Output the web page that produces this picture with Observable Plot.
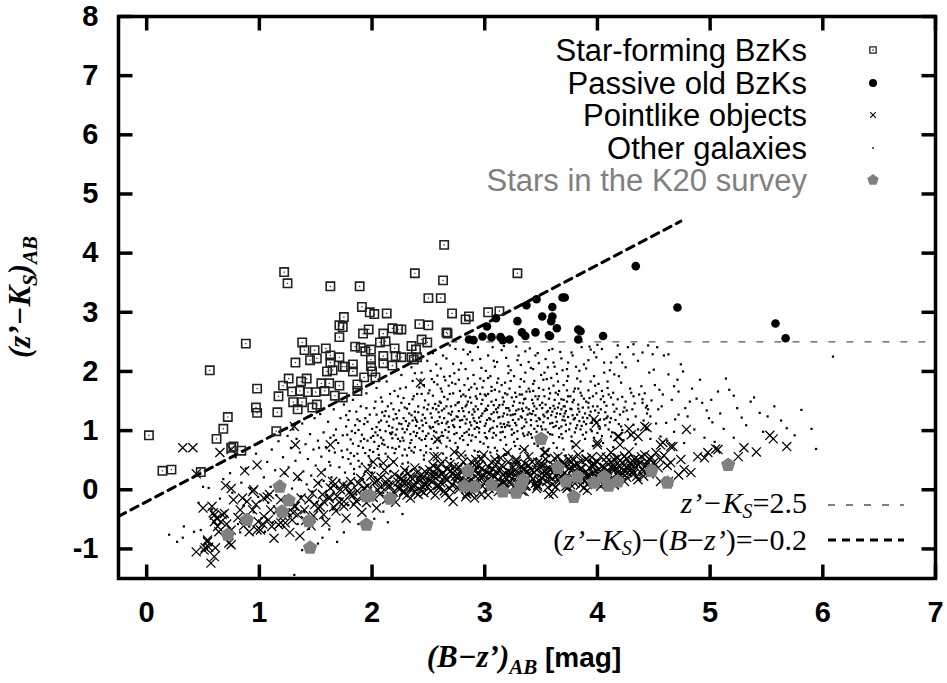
<!DOCTYPE html>
<html>
<head>
<meta charset="utf-8">
<script src="https://cdn.jsdelivr.net/npm/d3@7"></script>
<script src="https://cdn.jsdelivr.net/npm/@observablehq/plot@0.6"></script>
<style>
  html, body { margin: 0; padding: 0; background: #fff; }
  #chart svg { display: block; }
</style>
</head>
<body>
<div id="chart"></div>
<script>
// BzK colour–colour diagram: (z'−Ks) against (B−z'), AB magnitudes.

const xTicks = [0, 1, 2, 3, 4, 5, 6, 7];
const yTicks = [-1, 0, 1, 2, 3, 4, 5, 6, 7, 8];
const xDomain = [-0.25, 7];
const yDomain = [-1.5, 8];

// selection boundaries
const cutOffset = -0.2;          // (z'−Ks) − (B−z') = −0.2
const cutX = [-0.25, 4.74];      // extent of the drawn diagonal
const passiveLimit = 2.5;        // z'−Ks = 2.5
const passiveStartX = 2.7;

// star-forming BzKs  [B−z', z'−Ks]
const starForming = [
  [0.02,0.92],[0.14,0.32],[0.22,0.34],[0.48,0.30],[0.62,0.86],[0.68,1.03],[0.72,1.23],[0.75,0.71],
  [0.77,0.73],[0.84,0.66],[0.97,1.39],[0.98,1.30],[1.15,0.99],[1.16,1.31],[0.56,2.02],[0.88,2.47],
  [1.22,3.68],[1.25,3.49],[1.63,3.44],[1.89,3.44],[2.38,3.66],[2.64,4.14],[2.63,3.54],[2.50,3.24],
  [2.61,3.24],[2.66,2.66],[1.91,3.09],[1.98,3.00],[2.02,2.97],[2.13,2.98],[1.75,2.92],[1.71,2.78],
  [1.74,2.75],[1.71,2.58],[1.92,2.64],[1.97,2.71],[2.10,2.64],[2.18,2.73],[2.23,2.71],[2.42,2.80],
  [2.50,2.78],[1.38,2.49],[1.40,2.36],[1.49,2.36],[1.59,2.39],[1.32,2.15],[1.45,2.19],[1.51,2.22],
  [1.63,2.27],[1.71,2.24],[1.63,2.15],[1.76,2.08],[1.83,2.12],[1.83,2.00],[1.85,2.42],[1.90,2.40],
  [1.94,2.34],[1.99,2.37],[2.07,2.49],[2.12,2.51],[2.20,2.39],[2.21,2.26],[2.26,2.24],[2.10,2.26],
  [2.10,2.14],[2.18,2.10],[1.99,2.20],[1.99,2.09],[2.00,2.00],[2.03,1.90],[1.93,1.90],[2.35,2.43],
  [2.39,2.37],[2.44,2.54],[2.49,2.49],[2.35,2.24],[2.40,2.24],[2.37,2.20],[1.26,1.88],[1.21,1.76],
  [1.42,1.88],[1.37,1.83],[1.29,1.66],[1.36,1.67],[1.43,1.65],[1.17,1.58],[0.98,1.71],[1.30,1.48],
  [1.38,1.48],[1.34,1.36],[1.47,1.39],[1.55,1.80],[1.62,1.80],[1.71,1.76],[1.87,1.78],[1.50,1.65],
  [1.58,1.67],[1.67,1.59],[1.74,1.56],[1.87,1.67],[1.60,2.00],[1.65,2.02],[1.51,1.44],[1.74,2.08],
  [2.71,2.98],[2.83,2.88],[2.86,2.93],[3.03,3.00],[3.13,3.02],[3.29,3.66],[2.26,2.71],[2.67,2.64]
];

// passive old BzKs
const passiveOld = [
  [4.34,3.78],[4.71,3.08],[5.58,2.81],[5.67,2.56],[4.05,2.60],[3.83,2.71],[3.85,2.68],[3.83,2.54],
  [3.69,3.25],[3.71,3.25],[3.60,3.09],[3.60,2.93],[3.59,2.85],[3.51,2.93],[3.64,2.73],[3.58,2.60],
  [3.46,3.22],[3.37,3.12],[3.29,2.85],[3.45,2.66],[3.33,2.66],[3.36,2.60],[3.10,2.90],[3.02,2.76],
  [2.98,2.59],[2.86,2.54],[2.90,2.53],[3.06,2.58],[3.14,2.58],[3.16,2.53],[3.22,2.54],[3.57,2.61]
];

// pointlike objects
const pointlike = [
  [0.32,0.71],[0.41,0.71],[0.65,0.63],[0.44,0.27],[0.75,0.68],[0.98,0.42],[0.87,0.32],[1.31,1.07],
  [1.32,0.76],[0.70,0.07],[0.75,0.02],[0.58,-0.28],[0.60,-0.43],[0.62,-0.48],[0.66,-0.54],[0.63,-0.62],
  [0.69,-0.40],[0.77,-0.17],[0.83,-0.34],[0.89,-0.20],[0.95,0.00],[0.94,-0.34],[0.91,-0.71],[0.98,-0.68],
  [1.04,-0.45],[1.07,-0.12],[1.10,-0.34],[1.19,-0.17],[1.19,-0.56],[1.25,-0.39],[1.31,-0.28],[1.34,-0.42],
  [0.44,-1.05],[0.51,-1.02],[0.55,-0.97],[0.61,-0.98],[0.57,-1.24],[0.60,-1.13],[0.54,-0.88],[0.75,-0.93],
  [0.50,-0.31],[0.94,-0.03],[0.59,-0.39],[0.67,-0.42],[0.60,-0.54],[0.75,-0.68],[0.73,-0.90],[0.54,-0.85],
  [0.52,-0.98],[0.85,-0.14],[0.97,-0.25],[1.04,-0.14],[1.09,-0.08],[0.99,-0.54],[1.01,-0.68],[1.08,-0.51],
  [1.16,-0.34],[1.17,-0.59],[1.23,-0.56],[1.30,-0.39],[1.32,-0.28],[1.34,0.22],[1.22,0.29],[1.37,-0.14],
  [1.40,-0.34],[1.44,-0.17],[1.47,-0.06],[1.49,-0.25],[1.52,0.11],[1.55,0.29],[1.57,-0.20],[1.62,-0.12],
  [1.65,0.14],[1.66,-0.29],[1.72,0.00],[1.75,-0.20],[1.78,0.05],[1.81,-0.08],[1.84,-0.25],[1.88,0.11],
  [1.92,-0.12],[1.96,-0.03],[2.01,0.47],[2.05,0.00],[2.08,0.05],[2.10,0.45],[2.15,0.08],[2.19,0.47],
  [2.23,0.03],[2.27,0.14],[2.32,0.11],[2.34,0.22],[2.37,0.05],[2.41,-0.08],[2.43,0.17],[2.49,0.11],
  [2.51,0.34],[2.55,0.56],[2.55,0.22],[2.59,0.08],[2.63,0.29],[2.67,0.17],[2.72,-0.20],[2.73,0.39],
  [2.76,0.22],[2.81,0.47],[2.83,-0.12],[2.86,-0.05],[2.91,0.42],[2.92,0.11],[2.88,0.29],[2.73,0.64],
  [2.58,0.85],[2.92,0.51],[2.99,0.59],[3.06,0.46],[3.14,0.54],[3.20,0.63],[3.28,0.51],[3.32,0.39],
  [3.39,0.56],[3.47,0.46],[3.54,0.63],[3.57,0.37],[3.65,0.56],[3.70,0.42],[3.77,0.47],[3.83,0.59],
  [3.90,0.51],[3.96,0.39],[4.00,0.80],[4.03,0.56],[4.08,0.46],[4.12,0.63],[4.18,0.54],[4.24,0.42],
  [4.28,0.64],[4.36,0.51],[4.42,0.59],[4.48,0.54],[4.52,0.63],[4.56,0.51],[4.58,0.80],[4.65,0.73],
  [4.65,0.46],[4.74,0.51],[4.79,1.02],[4.77,0.34],[4.83,0.29],[4.89,0.56],[4.95,0.54],[4.98,0.63],
  [5.07,0.68],[5.25,0.56],[5.30,0.71],[5.41,0.64],[3.97,1.19],[4.18,0.90],[4.30,0.93],[4.42,1.07],
  [4.56,0.14],[4.63,0.14],[4.72,0.25],[4.36,0.17],[4.24,0.14],[4.15,0.08],[4.06,0.11],[3.94,0.14],
  [3.85,0.08],[3.74,0.05],[3.68,0.22],[3.57,-0.08],[3.47,0.08],[3.41,0.14],[3.35,-0.03],[3.26,0.05],
  [3.17,0.11],[3.12,-0.03],[3.04,0.08],[2.97,-0.08],[2.91,-0.14],[3.07,0.25],[3.23,0.29],[3.38,0.31],
  [3.53,0.25],[3.61,0.31],[3.79,0.29],[3.92,0.25],[4.09,0.29],[4.21,0.29],[4.32,0.31],[4.45,0.34],
  [3.99,1.13],[4.19,0.90],[4.28,1.03],[4.36,0.90],[4.44,1.05],[4.67,0.73],[4.56,0.76],[5.05,0.69],
  [5.56,0.86],[5.68,0.73],[3.81,0.76],[4.00,0.76],[4.20,0.76],[5.53,0.92],[2.43,1.81],[2.58,0.56],
  [2.79,0.59],[3.35,0.68],[3.53,0.63],[1.96,0.34],[1.63,0.76],
  [1.52,-0.31],[1.56,-0.08],[1.57,-0.42],[1.62,-0.15],[1.63,0.03],[1.68,-0.36],[1.69,-0.11],[1.74,0.08],
  [1.75,-0.28],[1.80,-0.04],[1.81,0.14],[1.86,-0.19],[1.87,-0.02],[1.90,0.19],[1.95,-0.22],[1.96,0.06],
  [2.01,-0.13],[2.02,0.12],[2.07,-0.07],[2.08,0.21],[2.13,-0.16],[2.14,0.17],[2.19,-0.04],[2.20,0.26],
  [2.25,0.02],[2.26,0.19],[2.31,-0.09],[2.32,0.28],[2.37,0.09],[2.38,-0.03],[2.43,0.24],[2.44,0.06],
  [2.47,0.31],[2.52,-0.02],[2.53,0.14],[2.58,0.36],[2.59,0.03],[2.64,0.21],[2.65,-0.06],[2.70,0.32],
  [2.71,0.08],[2.76,0.27],[2.77,0.01],[2.80,0.19],[2.85,0.38],[2.86,0.12],[2.89,-0.04],[2.94,0.26],
  [2.95,0.41],[3.00,0.13],[3.01,0.31],[3.04,0.02],[3.09,0.22],[3.10,0.43],[3.13,0.09],[3.18,0.28],
  [3.19,0.01],[3.24,0.19],[3.25,0.38],[3.30,0.12],[3.31,0.26],[3.36,0.44],[3.37,0.07],[3.42,0.33],
  [3.43,0.19],[3.46,0.02],[3.51,0.28],[3.52,0.41],[3.55,0.14],[3.58,0.33],[3.63,0.05],[3.64,0.24],
  [3.69,0.46],[3.70,0.17],[3.75,0.36],[3.76,0.09],[3.81,0.29],[3.82,0.44],[3.87,0.19],[3.88,0.03],
  [3.93,0.37],[3.94,0.14],[3.99,0.31],[4.00,0.47],[4.05,0.22],[4.06,0.38],[4.11,0.16],[4.14,0.42],
  [4.17,0.27],[4.20,0.49],[4.23,0.33],[4.26,0.21],[4.29,0.44],[4.30,0.36],[4.35,0.23],[4.38,0.45],
  [4.41,0.31],[4.44,0.48],[4.47,0.38],[2.21,-0.21],[2.34,-0.14],[2.56,-0.09],[2.68,-0.13],[2.84,-0.07],
  [3.03,-0.09],[3.16,-0.04],[3.33,-0.02],[3.47,0.05],[3.61,-0.06],[3.73,0.02],[3.91,-0.01],[4.03,0.06],
  [1.59,-0.55],[1.77,-0.48],[1.91,-0.38],[2.04,-0.31],[1.46,-0.61],[1.36,-0.78],[1.27,-0.72],[1.13,-0.82],
  [2.29,0.11],[2.41,0.17],[2.49,0.05],[2.62,0.27],[2.74,0.15],[2.83,0.24],[2.92,0.33],[2.98,0.06],
  [3.07,0.35],[3.12,0.17],[3.21,0.31],[3.27,0.07],[3.34,0.35],[3.40,0.24],[3.49,0.39],[3.57,0.22],
  [3.66,0.31],[3.72,0.42],[3.79,0.19],[3.85,0.34],[3.97,0.23],[4.09,0.33],[4.15,0.09],[4.27,0.37],
  [4.33,0.52],[2.16,0.06],[1.99,0.23],[2.11,0.33],[2.61,0.44],[2.97,0.52],[3.28,0.48],[3.62,0.53],
  [3.95,0.55],[4.24,0.57],
  [2.35,0.04],[2.40,0.29],[2.46,-0.05],[2.50,0.18],[2.56,0.27],[2.61,0.12],[2.67,0.35],[2.69,0.02],
  [2.74,0.23],[2.79,0.31],[2.82,0.07],[2.88,0.18],[2.90,0.34],[2.93,0.02],[2.99,0.24],[3.03,0.39],
  [3.05,0.16],[3.11,0.29],[3.15,0.41],[3.17,0.14],[3.22,0.24],[3.26,0.32],[3.29,0.21],[3.33,0.11],
  [3.35,0.27],[3.39,0.41],[3.44,0.29],[3.48,0.16],[3.50,0.45],[3.54,0.34],[3.56,0.04],[3.60,0.19],
  [3.65,0.42],[3.67,0.12],[3.71,0.29],[3.74,0.51],[3.78,0.36],[3.80,0.11],[3.84,0.27],[3.86,0.48],
  [3.90,0.31],[3.92,0.21],[3.96,0.44],[4.01,0.26],[4.04,0.39],[4.08,0.24],[4.12,0.47],[4.16,0.35],
  [4.19,0.21],[4.22,0.46],[4.27,0.29],[4.31,0.49],[4.34,0.38],[4.39,0.56],[4.43,0.41],[4.46,0.27],
  [4.50,0.46],[4.54,0.37],[4.59,0.58],[4.62,0.41],[2.12,0.09],[2.17,-0.11],[2.23,0.13],[2.28,-0.05],
  [2.05,0.16],[1.93,0.03],[1.83,-0.09],[1.71,-0.21],[1.66,0.07],[1.54,-0.29],[1.48,-0.44],[1.41,-0.52],
  [1.29,-0.51],[1.21,-0.44],[1.11,-0.62],[1.03,-0.58],[0.86,-0.61],[0.81,-0.47],[0.71,-0.58],[0.64,-0.71],
  [2.24,0.21],[2.28,-0.02],[2.29,0.33],[2.34,0.01],[2.36,0.18],[2.38,0.37],[2.43,-0.01],[2.46,0.22],
  [2.47,0.09],[2.52,0.26],[2.54,0.41],[2.58,0.07],[2.59,0.24],[2.64,-0.02],[2.66,0.18],[2.69,0.43],
  [2.71,0.27],[2.76,0.04],[2.77,0.38],[2.82,0.14],[2.84,0.29],[2.88,0.47],[2.89,0.08],[2.94,0.19],
  [2.97,0.35],[2.98,0.21],[3.03,0.04],[3.04,0.27],[3.09,0.51],[3.12,0.06],[3.13,0.33],[3.18,0.21],
  [3.21,0.47],[3.22,0.12],[3.27,0.25],[3.28,0.43],[3.33,0.16],[3.36,0.06],[3.37,0.29],[3.42,0.47],
  [3.45,0.11],[3.46,0.34],[3.51,0.19],[3.54,0.52],[3.55,0.27],[3.60,0.09],[3.61,0.41],[3.66,0.16],
  [3.67,0.33],[3.72,0.06],[3.73,0.24],[3.78,0.53],[3.79,0.41],[3.84,0.17],[3.85,0.36],[3.90,0.52],
  [3.91,0.09],[3.96,0.28],[3.97,0.44],[4.02,0.14],[4.03,0.31],[4.08,0.55],[4.09,0.26],[4.14,0.36],
  [4.15,0.51],[4.20,0.39],[4.21,0.24],[4.26,0.52],[4.27,0.35],[4.32,0.27],[4.36,0.43],[4.40,0.35],
  [4.41,0.23],[4.46,0.52]
];

// other galaxies
const otherGalaxies = [
  [0.20,-0.76],[0.27,-0.88],[0.32,-0.81],[0.55,0.03],[0.46,-0.22],[1.31,-1.44],[1.56,-0.81],[2.10,-0.37],
  [0.33,-0.62],[0.42,-0.71],[0.48,-0.68],[0.50,0.05],[0.58,-0.33],[0.62,0.42],[0.65,-0.15],[0.68,0.18],
  [0.71,-0.45],[0.74,0.28],[0.76,-0.05],[0.79,0.55],[0.81,-0.58],[0.84,0.12],[0.86,-0.27],[0.88,0.36],
  [0.91,-0.62],[0.92,0.02],[0.95,-0.38],[0.97,0.61],[0.99,-0.12],[0.70,-0.78],[0.83,-0.72],[0.60,-0.55],
  [1.02,-0.48],[1.04,0.21],[1.05,-0.71],[1.07,0.47],[1.08,-0.22],[1.10,0.05],[1.11,0.68],[1.12,-0.55],
  [1.14,0.33],[1.15,-0.09],[1.17,0.82],[1.18,-0.36],[1.19,0.14],[1.21,0.55],[1.22,-0.63],[1.23,0.27],
  [1.24,-0.18],[1.25,0.91],
  [1.26,0.38],[1.27,-0.42],[1.28,0.71],[1.29,0.02],[1.30,1.02],[1.31,-0.25],[1.32,0.49],[1.33,0.86],
  [1.34,-0.58],[1.35,0.17],[1.36,0.63],[1.37,-0.11],[1.38,1.12],[1.39,0.31],[1.40,-0.38],[1.41,0.77],
  [1.42,0.09],[1.43,0.52],[1.44,-0.66],[1.45,0.94],[1.46,0.24],[1.47,-0.03],[1.48,0.68],[1.49,1.21],
  [1.50,0.41],
  [1.51,-0.21],[1.52,0.83],[1.53,0.12],[1.54,1.28],[1.55,0.56],[1.56,-0.47],[1.57,0.97],[1.58,0.34],
  [1.59,0.72],[1.60,-0.09],[1.61,1.15],[1.62,0.47],[1.63,0.88],[1.64,0.21],[1.65,-0.33],[1.66,1.36],
  [1.67,0.63],[1.68,1.02],[1.69,0.05],[1.70,0.79],[1.71,0.38],[1.72,1.21],[1.73,-0.15],[1.74,0.92],
  [1.74,0.55],[1.75,1.44],[1.62,0.66],[1.57,0.15],[1.68,0.84],[1.53,0.71],
  [1.76,0.29],[1.77,1.07],[1.78,0.68],[1.79,-0.26],[1.80,1.33],[1.81,0.85],[1.82,0.11],[1.83,1.52],
  [1.84,0.57],[1.85,0.96],[1.86,-0.08],[1.87,1.19],[1.88,0.74],[1.89,0.39],[1.90,1.41],[1.91,0.93],
  [1.92,0.18],[1.93,1.11],[1.94,0.62],[1.95,1.63],[1.96,0.83],[1.97,-0.19],[1.98,1.27],[1.99,0.48],
  [2.00,1.03],[1.78,0.93],[1.83,0.78],[1.88,1.01],[1.92,0.71],[1.96,1.15],[1.99,0.88],[1.81,0.44],
  [1.86,1.32],[1.94,0.31],[1.79,1.18],
  [2.01,0.64],[2.02,1.38],[2.03,0.21],[2.04,1.72],[2.05,0.92],[2.06,1.14],[2.07,0.43],[2.08,1.56],
  [2.09,0.78],[2.10,-0.05],[2.11,1.25],[2.12,0.99],[2.13,1.83],[2.14,0.56],[2.15,1.08],[2.16,0.31],
  [2.17,1.46],[2.18,0.87],[2.19,1.19],[2.20,1.67],[2.21,0.69],[2.22,1.02],[2.23,0.14],[2.24,1.34],
  [2.25,0.82],[2.03,0.97],[2.06,0.74],[2.09,1.31],[2.12,0.61],[2.15,1.24],[2.18,1.05],[2.21,0.93],
  [2.24,1.12],[2.04,1.06],[2.08,0.88],[2.14,1.41],[2.19,0.48],[2.23,1.58],[2.02,0.37],[2.16,0.96],
  [2.26,1.94],[2.27,0.58],[2.28,1.21],[2.29,0.97],[2.30,1.73],[2.31,0.34],[2.32,1.08],[2.33,1.45],
  [2.34,0.79],[2.35,2.07],[2.36,1.17],[2.37,0.63],[2.38,1.32],[2.39,0.91],[2.40,1.62],[2.41,0.22],
  [2.42,1.04],[2.43,1.86],[2.44,0.84],[2.45,1.27],[2.46,0.51],[2.47,1.51],[2.48,1.13],[2.49,2.18],
  [2.50,0.95],[2.27,0.88],[2.29,1.39],[2.31,1.02],[2.33,0.71],[2.35,1.26],[2.37,0.98],[2.39,1.18],
  [2.41,1.41],[2.43,0.67],[2.45,1.09],[2.47,0.86],[2.49,1.36],[2.28,1.55],[2.32,0.46],[2.36,1.84],
  [2.40,1.15],[2.44,1.98],[2.48,0.74],[2.26,1.11],[2.42,0.38],
  [2.51,1.68],[2.52,0.69],[2.53,1.22],[2.54,2.31],[2.55,0.99],[2.56,1.45],[2.57,0.42],[2.58,1.78],
  [2.59,1.11],[2.60,0.83],[2.61,2.05],[2.62,1.34],[2.63,0.61],[2.64,1.57],[2.65,1.01],[2.66,2.22],
  [2.67,0.88],[2.68,1.29],[2.69,1.92],[2.70,0.52],[2.71,1.17],[2.72,1.63],[2.73,0.94],[2.74,2.38],
  [2.75,1.24],[2.52,1.04],[2.54,1.38],[2.56,0.81],[2.58,1.16],[2.60,1.49],[2.62,0.97],[2.64,1.21],
  [2.66,0.73],[2.68,1.06],[2.70,1.41],[2.72,1.09],[2.74,0.79],[2.53,1.87],[2.57,2.12],[2.61,1.71],
  [2.65,1.85],[2.69,2.44],[2.73,1.97],[2.55,0.31],[2.63,0.46],[2.71,0.36],[2.59,1.31],[2.67,1.15],
  [2.76,0.72],[2.77,1.48],[2.78,1.06],[2.79,2.14],[2.80,0.91],[2.81,1.33],[2.82,1.77],[2.83,0.58],
  [2.84,1.19],[2.85,2.29],[2.86,1.02],[2.87,1.56],[2.88,0.83],[2.89,1.27],[2.90,1.94],[2.91,0.66],
  [2.92,1.41],[2.93,1.13],[2.94,2.41],[2.95,0.97],[2.96,1.62],[2.97,1.25],[2.98,0.49],[2.99,1.84],
  [3.00,1.08],[2.76,1.23],[2.78,1.67],[2.80,1.18],[2.82,0.96],[2.84,1.44],[2.86,1.31],[2.88,1.09],
  [2.90,1.21],[2.92,0.89],[2.94,1.36],[2.96,1.15],[2.98,1.52],[3.00,1.33],[2.77,2.03],[2.81,2.37],
  [2.85,1.88],[2.89,2.19],[2.93,1.71],[2.97,2.06],[2.79,0.41],[2.87,0.35],[2.95,0.28],[2.83,1.58],
  [2.91,1.03],[2.99,0.78],
  [3.01,1.59],[3.02,0.87],[3.03,2.27],[3.04,1.21],[3.05,0.63],[3.06,1.74],[3.07,1.05],[3.08,1.43],
  [3.09,2.08],[3.10,0.92],[3.11,1.31],[3.12,0.54],[3.13,1.66],[3.14,1.12],[3.15,2.36],[3.16,0.98],
  [3.17,1.49],[3.18,1.81],[3.19,0.76],[3.20,1.27],[3.21,1.97],[3.22,1.08],[3.23,0.45],[3.24,1.56],
  [3.25,1.18],[3.02,1.35],[3.04,0.99],[3.06,1.28],[3.08,1.16],[3.10,1.52],[3.12,1.39],[3.14,0.84],
  [3.16,1.24],[3.18,1.06],[3.20,1.61],[3.22,1.34],[3.24,0.93],[3.03,1.89],[3.07,2.41],[3.11,2.16],
  [3.15,1.77],[3.19,2.23],[3.23,2.02],[3.05,0.38],[3.13,0.31],[3.21,0.62],[3.09,0.71],[3.17,1.11],
  [3.25,1.42],[3.01,1.12],
  [3.26,0.81],[3.27,1.64],[3.28,1.09],[3.29,2.19],[3.30,1.36],[3.31,0.69],[3.32,1.87],[3.33,1.22],
  [3.34,0.95],[3.35,1.53],[3.36,2.34],[3.37,1.14],[3.38,0.58],[3.39,1.71],[3.40,1.29],[3.41,2.06],
  [3.42,0.88],[3.43,1.46],[3.44,1.03],[3.45,2.27],[3.46,1.37],[3.47,0.74],[3.48,1.58],[3.49,1.19],
  [3.50,1.94],[3.27,1.28],[3.29,0.99],[3.31,1.47],[3.33,1.61],[3.35,1.07],[3.37,1.39],[3.39,0.97],
  [3.41,1.18],[3.43,1.67],[3.45,1.26],[3.47,1.08],[3.49,1.43],[3.28,2.42],[3.32,2.11],[3.36,1.98],
  [3.40,2.39],[3.44,1.84],[3.48,2.14],[3.30,0.47],[3.38,0.39],[3.46,0.52],[3.34,1.33],[3.42,1.52],
  [3.51,1.02],[3.52,1.69],[3.53,0.84],[3.54,2.21],[3.55,1.31],[3.56,0.66],[3.57,1.54],[3.58,1.12],
  [3.59,1.89],[3.60,0.93],[3.61,1.42],[3.62,2.08],[3.63,1.23],[3.64,0.71],[3.65,1.61],[3.66,1.04],
  [3.67,2.33],[3.68,1.36],[3.69,0.87],[3.70,1.77],[3.71,1.17],[3.72,0.58],[3.73,1.49],[3.74,1.92],
  [3.52,1.27],[3.54,1.44],[3.56,1.21],[3.58,1.38],[3.60,1.13],[3.62,1.52],[3.64,1.29],[3.66,1.46],
  [3.68,1.07],[3.70,1.24],[3.72,1.33],[3.53,1.98],[3.57,2.36],[3.61,2.15],[3.65,1.83],[3.69,2.02],
  [3.55,0.49],[3.63,0.42],
  [3.76,1.12],[3.78,1.48],[3.80,0.97],[3.82,1.27],[3.83,1.71],[3.86,1.08],[3.87,1.39],[3.89,0.86],
  [3.91,1.21],[3.93,1.55],[3.95,1.13],[3.98,1.34],[4.00,0.96],[4.02,1.18],[4.04,1.67],[4.07,1.09],
  [4.08,1.42],[3.84,2.01],[3.92,2.19],[4.01,1.79],[4.00,2.45],[4.27,2.41],[3.93,2.42],
  [6.09,2.25],[5.94,0.69],[5.90,1.03],[5.75,0.92],[5.57,1.41],[5.44,1.30],[5.39,1.56],[5.36,1.49],
  [5.21,1.59],[5.17,1.69],[5.07,1.66],[4.97,1.34],[5.02,1.14],[4.91,1.86],[4.88,1.54],[4.82,1.49],
  [4.74,2.12],[4.76,2.00],[4.72,1.27],[4.69,1.19],[4.80,1.24],[4.68,1.75],[4.72,1.66],[4.63,1.95],
  [4.58,1.61],[4.55,1.69],[4.54,1.36],[4.46,1.98],[4.50,2.03],[4.44,1.42],[4.39,1.75],[4.40,1.53],
  [4.45,1.36],[4.32,2.29],[4.40,2.32],[4.45,2.44],[4.49,2.29],[4.59,2.27],[4.63,2.29],[4.32,2.46],
  [4.20,2.29],[4.22,2.15],[4.17,2.24],[4.06,2.15],[3.97,2.32],[3.99,2.24],[3.94,2.37],[3.77,2.32],
  [3.74,2.15],[3.81,2.08],[3.88,2.12],[4.12,2.15],[4.15,1.95],[4.19,1.92],[4.06,1.98],[3.97,1.92],
  [3.94,1.83],[4.09,1.83],[4.21,1.81],[4.30,1.64],[4.32,1.58],[4.40,1.47],[4.43,1.39],[4.24,1.39],
  [4.23,1.32],[4.12,1.56],[4.03,1.53],[3.96,1.58],[3.90,1.49],[3.85,1.64],[3.79,1.66],[3.74,1.58],
  [3.70,1.41],[3.77,1.36],[3.84,1.32],[3.92,1.39],[4.01,1.30],[4.09,1.24],[4.15,1.32],[4.06,1.19],
  [3.88,1.15],[3.79,1.19],[3.72,1.10],[3.85,1.02],[3.94,1.02],[4.10,1.02],[4.21,1.07],[4.32,1.10],
  [4.43,1.02],[4.56,0.90],[4.68,0.98],[4.12,0.90],[3.97,0.88],[3.77,0.90],[4.95,0.88],[5.04,0.81],
  [5.21,0.88],
  [1.63,0.41],[1.66,0.92],[1.71,0.17],[1.73,0.66],[1.77,1.26],[1.79,0.52],[1.82,0.99],[1.84,0.27],
  [1.87,0.61],[1.89,1.16],[1.91,0.44],[1.93,0.86],[1.95,1.38],[1.98,0.67],[2.00,0.29],[2.02,0.81],
  [2.04,1.27],[2.06,0.53],[2.07,1.01],[2.09,1.49],[2.11,0.76],[2.13,1.15],[2.15,0.41],[2.17,0.94],
  [2.19,1.36],[2.20,0.62],[2.22,1.21],[2.24,0.73],[2.26,1.47],[2.28,0.83],[2.30,1.16],[2.31,0.58],
  [2.33,1.29],[2.34,0.94],[2.36,1.53],[2.38,0.72],[2.39,1.08],[2.41,1.31],[2.42,0.87],[2.44,1.62],
  [2.45,0.99],[2.47,1.21],[2.48,0.63],[2.50,1.44],[2.51,1.07],[2.53,0.86],[2.54,1.59],[2.56,1.14],
  [2.57,0.97],[2.59,1.42],[2.60,1.23],[2.62,1.66],[2.63,0.91],[2.64,1.37],[2.66,1.12],[2.67,1.53],
  [2.69,0.83],[2.70,1.27],[2.71,1.81],[2.73,1.19],[2.74,1.43],[2.75,0.96],[2.77,1.33],[2.78,1.17],
  [2.79,1.58],[2.81,0.84],[2.82,1.24],[2.83,1.41],[2.84,0.98],[2.86,1.69],[2.87,1.14],[2.88,1.47],
  [2.89,0.92],[2.91,1.32],[2.92,1.58],[2.93,1.06],[2.95,1.22],[2.96,0.81],[2.97,1.45],[2.98,1.73],
  [3.00,0.96],[3.01,1.37],[3.02,1.18],[3.03,1.62],[3.05,1.03],[3.06,1.49],[3.07,0.88],[3.08,1.31],
  [3.09,1.69],[3.11,1.07],[3.12,1.22],[3.13,1.43],[3.14,0.97],[3.16,1.56],[3.17,1.29],[3.18,0.89],
  [3.19,1.38],[3.21,1.14],[3.22,1.71],[3.23,1.26],[3.24,1.02],[3.26,1.49],[3.27,1.13],[3.28,1.34],
  [3.29,0.86],[3.31,1.61],[3.32,1.24],[3.33,1.04],[3.34,1.46],[3.36,1.19],[3.37,1.66],[3.38,0.93],
  [3.39,1.36],[3.41,1.09],[3.42,1.28],[3.43,1.79],[3.44,1.41],[3.46,0.98],[3.47,1.53],[3.48,1.21],
  [3.49,0.83],[3.51,1.38],[3.52,1.14],[3.53,1.58],[3.54,1.02],[3.56,1.33],[3.57,1.71],[3.58,0.94],
  [3.59,1.26],[3.61,1.06],[3.62,1.37],[3.63,1.64],[3.64,1.15],[3.66,0.89],[3.67,1.28],[3.68,1.53],
  [3.69,1.18],[3.71,1.41],[3.72,0.99],[3.73,1.68],[3.74,1.23],[3.76,1.37],[3.77,0.82],[3.79,1.52],
  [3.80,1.21],[3.81,1.04],[3.83,1.44],[3.84,1.16],[3.86,1.59],[3.87,0.93],[3.89,1.29],[3.90,1.11],
  [3.92,1.47],[3.93,1.26],[3.95,0.99],[3.96,1.41],[3.98,1.17],[3.99,1.63],[4.01,1.07],[4.03,1.36],
  [4.04,0.91],[4.06,1.48],[4.08,1.21],[4.10,1.61],[4.11,1.14],[4.13,0.97],[4.14,1.44],[4.16,1.18],
  [4.18,1.53],[4.20,1.27],[4.22,1.01],[4.25,1.49],[4.27,1.19],[4.29,0.92],[4.31,1.36],[4.34,1.24],
  [4.37,1.61],[4.41,1.17],[4.44,1.29],[4.48,1.51],[4.52,1.12],
  [2.38,1.97],[2.46,1.77],[2.52,2.01],[2.58,1.93],[2.63,2.27],[2.68,1.76],[2.72,2.13],[2.77,1.86],
  [2.83,2.04],[2.87,2.33],[2.91,1.79],[2.96,2.21],[3.01,2.01],[3.05,1.92],[3.08,2.18],[3.12,1.88],
  [3.17,2.43],[3.21,2.09],[3.26,1.92],[3.30,2.27],[3.35,1.83],[3.39,2.16],[3.43,2.04],[3.47,2.31],
  [3.52,1.86],[3.56,2.07],[3.60,2.38],[3.64,1.96],[3.68,2.22],[3.73,2.04],[3.78,2.27],[3.82,1.88],
  [3.86,2.41],[3.90,2.05],[4.04,2.38],[4.11,2.02],[4.18,2.44],[4.25,2.07],[4.36,2.18],[4.53,2.41],
  [1.84,0.35],[1.97,0.42],[2.06,0.59],[2.18,0.71],[2.27,0.44],[2.35,0.66],[2.46,0.58],[2.58,0.71],
  [2.66,0.54],[2.75,0.63],[2.85,0.76],[2.94,0.64],[3.03,0.72],[3.11,0.66],[3.19,0.59],[3.27,0.74],
  [3.36,0.67],[3.44,0.78],[3.52,0.71],[3.61,0.79],[3.70,0.68],[3.78,0.73],[3.87,0.66],[3.96,0.74],
  [4.05,0.79],[4.14,0.72],[4.23,0.84],[4.34,0.77],[4.47,0.86],[4.62,0.83],[4.77,0.79],[4.86,1.02],
  [4.99,1.21],[5.12,1.03],[5.28,1.22],[5.47,0.98],[5.63,1.17],[5.81,1.35],
  [1.81,0.62],[1.85,1.09],[1.88,0.49],[1.90,0.82],[1.94,1.21],[1.97,0.57],[2.01,0.91],[2.03,1.49],
  [2.05,0.69],[2.08,1.17],[2.10,0.84],[2.12,1.33],[2.14,0.72],[2.16,1.62],[2.18,0.97],[2.21,1.28],
  [2.23,0.86],[2.25,1.71],[2.27,1.03],[2.29,0.68],[2.31,1.37],[2.33,1.12],[2.35,0.84],[2.37,1.58],
  [2.38,1.22],[2.40,0.96],[2.42,1.73],[2.44,1.17],[2.46,1.39],[2.48,0.91],[2.50,1.63],[2.52,1.29],
  [2.54,1.06],[2.55,1.82],[2.57,1.36],[2.59,0.88],[2.61,1.47],[2.62,1.13],[2.64,1.91],[2.66,1.41],
  [2.68,0.98],[2.69,1.62],[2.71,1.32],[2.73,1.06],[2.74,1.79],[2.76,1.47],[2.78,0.87],[2.80,1.38],
  [2.81,1.61],[2.83,1.12],[2.85,1.49],[2.86,0.93],[2.88,1.73],[2.90,1.36],[2.91,1.16],[2.93,1.54],
  [2.95,1.04],[2.96,1.88],[2.98,1.29],[3.00,1.61],[3.01,0.89],[3.03,1.42],[3.05,1.19],[3.06,1.67],
  [3.08,0.96],[3.10,1.36],[3.11,1.81],[3.13,1.23],[3.15,1.06],[3.16,1.44],[3.18,1.63],[3.20,1.09],
  [3.21,1.38],[3.23,1.84],[3.25,1.27],[3.26,0.96],[3.28,1.57],[3.30,1.19],[3.31,1.74],[3.33,1.37],
  [3.35,0.91],[3.36,1.54],[3.38,1.27],[3.40,1.66],[3.41,0.94],[3.43,1.33],[3.45,1.58],[3.46,1.16],
  [3.48,1.72],[3.50,1.07],[3.51,1.47],[3.53,1.24],[3.55,1.87],[3.56,0.97],[3.58,1.63],[3.60,1.32],
  [3.61,1.76],[3.63,1.08],[3.65,1.39],[3.66,1.67],[3.68,0.94],[3.70,1.52],[3.71,1.29],[3.73,1.84],
  [3.75,1.02],[3.76,1.58],[3.78,1.26],[3.80,1.71],[3.82,1.09],[3.83,1.37],[3.85,1.83],[3.87,1.22],
  [3.88,1.54],[3.90,0.97],[3.92,1.68],[3.94,1.32],[3.96,1.19],[3.98,1.76],[4.00,1.41],[4.02,1.03],
  [4.05,1.58],[4.07,1.31],[4.09,1.72],[4.12,1.21],[4.14,1.64],[4.17,1.37],[4.19,1.11],[4.22,1.57],
  [4.26,1.34],[4.29,1.71],[4.33,1.46],[4.36,1.02],[4.42,1.63],[4.47,1.24],[4.51,1.77],[4.57,1.41],
  [4.61,1.13],[4.66,1.52],[4.71,1.86],[4.78,1.38],[4.84,1.71],[4.93,1.47],[5.01,1.52],[5.09,1.29],
  [5.14,1.88],[5.24,1.38],[5.32,1.09],[5.51,1.24],[5.68,1.04],
  [1.62,-0.67],[1.75,-0.72],[1.88,-0.58],[2.02,-0.49],[2.14,-0.55],[2.27,-0.41],[1.52,-0.91],[1.38,-1.02],
  [1.69,-0.88]
];

// stars in the K20 survey
const k20Stars = [
  [0.72,-0.76],[0.89,-0.51],[1.18,0.05],[1.26,-0.18],[1.20,-0.37],[1.44,-0.53],[1.45,-0.98],[1.95,-0.11],
  [1.98,-0.10],[1.95,-0.59],[2.16,-0.15],[2.85,0.32],[2.82,0.06],[2.91,0.05],[3.50,0.86],[3.06,0.08],
  [3.16,-0.03],[3.28,-0.05],[3.34,0.17],[3.32,0.06],[3.65,0.37],[3.72,0.14],[3.79,-0.12],[3.82,0.22],
  [3.97,0.12],[4.06,0.22],[4.10,0.07],[4.18,0.14],[4.48,0.32],[4.62,0.12],[5.16,0.42]
];

// legend entries
const legendLabels = ["Star-forming BzKs", "Passive old BzKs", "Pointlike objects", "Other galaxies", "Stars in the K20 survey"];

const grey = "#808080";

// frame geometry and tick-mark length (pixels), converted to data units
const W = 947, H = 683;
const margin = {left: 118, right: 12, top: 16, bottom: 105};
const tickPx = 14;
const xTickLen = tickPx * (xDomain[1] - xDomain[0]) / (W - margin.left - margin.right);
const yTickLen = tickPx * (yDomain[1] - yDomain[0]) / (H - margin.top - margin.bottom);

// short inward segments on all four sides, one pair of end points per tick
const tickSegments = [
  ...xTicks.flatMap(v => [
    {x: v, y: yDomain[0], id: `b${v}`}, {x: v, y: yDomain[0] + yTickLen, id: `b${v}`},
    {x: v, y: yDomain[1], id: `t${v}`}, {x: v, y: yDomain[1] - yTickLen, id: `t${v}`}
  ]),
  ...yTicks.flatMap(v => [
    {x: xDomain[0], y: v, id: `l${v}`}, {x: xDomain[0] + xTickLen, y: v, id: `l${v}`},
    {x: xDomain[1], y: v, id: `r${v}`}, {x: xDomain[1] - xTickLen, y: v, id: `r${v}`}
  ])
];

// five-sided marker, apex up
const pentagon = {
  draw(context, size) {
    const r = Math.sqrt(size / Math.PI);
    for (let i = 0; i < 5; ++i) {
      const a = -Math.PI / 2 + (i * 2 * Math.PI) / 5;
      const px = r * Math.cos(a), py = r * Math.sin(a);
      if (i === 0) context.moveTo(px, py); else context.lineTo(px, py);
    }
    context.closePath();
  }
};

const cutLine = cutX.map(x => ({x, y: x + cutOffset}));
const plainFormat = d => String(d);

const chart = Plot.plot({
  width: W,
  height: H,
  marginLeft: margin.left,
  marginRight: margin.right,
  marginTop: margin.top,
  marginBottom: margin.bottom,
  x: {domain: xDomain},
  y: {domain: yDomain},
  style: {fontFamily: "'Liberation Sans', Arial, sans-serif", background: "white", color: "black"},
  marks: [
    // tick labels
    Plot.axisX(xTicks, {anchor: "bottom", tickSize: 0, tickPadding: 23, fontSize: 29, fontWeight: "bold", tickFormat: plainFormat, label: null}),
    Plot.axisY(yTicks, {anchor: "left", tickSize: 0, tickPadding: 20, fontSize: 29, fontWeight: "bold", tickFormat: plainFormat, label: null}),

    // selection boundaries
    Plot.ruleY([passiveLimit], {x1: passiveStartX, x2: xDomain[1], stroke: "#555", strokeWidth: 1.3, strokeDasharray: "7,11"}),
    Plot.line(cutLine, {x: "x", y: "y", stroke: "black", strokeWidth: 3, strokeDasharray: "8,6"}),

    // populations
    Plot.dot(otherGalaxies, {x: d => d[0], y: d => d[1], symbol: "square", r: 1.25, fill: "black", stroke: null}),
    Plot.dot(pointlike, {x: d => d[0], y: d => d[1], symbol: "times", r: 4.2, stroke: "black", strokeWidth: 1.25}),
    Plot.dot(starForming, {x: d => d[0], y: d => d[1], symbol: "square", r: 4.7, fill: "none", stroke: "#222", strokeWidth: 1.6}),
    Plot.dot(starForming, {x: d => d[0], y: d => d[1], symbol: "square", r: 0.7, fill: "#222", stroke: null}),
    Plot.dot(passiveOld, {x: d => d[0], y: d => d[1], r: 4.3, fill: "black", stroke: null}),
    Plot.dot(k20Stars, {x: d => d[0], y: d => d[1], symbol: pentagon, r: 7.5, fill: grey, stroke: null}),

    // inward tick marks
    Plot.line(tickSegments, {x: "x", y: "y", z: "id", stroke: "black", strokeWidth: 3.5, strokeLinecap: "butt"}),

    Plot.frame({stroke: "black", strokeWidth: 3.5})
  ]
});

document.getElementById("chart").appendChild(chart);

const svg = d3.select(chart);
const serif = "'Liberation Serif', 'Times New Roman', serif";

// y title: (z'−Ks)AB
const yTitle = svg.append("text")
  .attr("transform", "translate(30,297) rotate(-90)")
  .attr("text-anchor", "middle")
  .attr("font-family", serif)
  .attr("font-size", 31)
  .attr("font-style", "italic")
  .attr("font-weight", "bold");
yTitle.append("tspan").text("(z’−K");
yTitle.append("tspan").attr("font-size", 21).attr("dy", 7).text("S");
yTitle.append("tspan").attr("dy", -7).text(")");
yTitle.append("tspan").attr("font-size", 21).attr("dy", 7).text("AB");

// x title: (B−z')AB [mag]
const xTitle = svg.append("text")
  .attr("x", 524)
  .attr("y", 667)
  .attr("text-anchor", "middle")
  .attr("font-family", serif)
  .attr("font-size", 31)
  .attr("font-style", "italic")
  .attr("font-weight", "bold");
xTitle.append("tspan").text("(B−z’)");
xTitle.append("tspan").attr("font-size", 21).attr("dy", 7).text("AB");
xTitle.append("tspan").attr("dy", -7)
  .attr("font-family", "'Liberation Sans', Arial, sans-serif")
  .attr("font-style", "normal").attr("font-weight", "bold").attr("font-size", 28)
  .text(" [mag]");

// legend
const legendTextX = 807, legendSymX = 873;
const legendBaselines = [61, 94, 126, 159, 191];
const legend = svg.append("g").attr("font-family", "'Liberation Sans', Arial, sans-serif").attr("font-size", 31);
legendLabels.forEach((label, i) => {
  legend.append("text")
    .attr("x", legendTextX).attr("y", legendBaselines[i])
    .attr("text-anchor", "end")
    .attr("fill", i === 4 ? grey : "black")
    .text(label);
});
const symY = legendBaselines.map(b => b - 11);
legend.append("path").attr("transform", `translate(${legendSymX},${symY[0]})`)
  .attr("d", d3.symbol(d3.symbolSquare, 40)()).attr("fill", "none").attr("stroke", "#222").attr("stroke-width", 1.3);
legend.append("path").attr("transform", `translate(${legendSymX},${symY[0]})`)
  .attr("d", d3.symbol(d3.symbolSquare, 2)()).attr("fill", "#222");
legend.append("circle").attr("cx", legendSymX).attr("cy", symY[1]).attr("r", 4).attr("fill", "black");
legend.append("path").attr("transform", `translate(${legendSymX},${symY[2]})`)
  .attr("d", d3.symbol(d3.symbolTimes, 22)()).attr("fill", "none").attr("stroke", "black").attr("stroke-width", 1.1);
legend.append("path").attr("transform", `translate(${legendSymX},${symY[3]})`)
  .attr("d", d3.symbol(d3.symbolSquare, 2.5)()).attr("fill", "black");
legend.append("path").attr("transform", `translate(${legendSymX},${symY[4]})`)
  .attr("d", d3.symbol(pentagon, Math.PI * 36)()).attr("fill", grey);

// line key
const key = svg.append("g").attr("font-family", serif).attr("font-size", 30);
const k1 = key.append("text").attr("x", 807).attr("y", 513).attr("text-anchor", "end");
k1.append("tspan").attr("font-style", "italic").text("z’−K");
k1.append("tspan").attr("font-style", "italic").attr("font-size", 20).attr("dy", 5).text("S");
k1.append("tspan").attr("dy", -5).text("=" + passiveLimit);
const k2 = key.append("text").attr("x", 807).attr("y", 550).attr("text-anchor", "end");
k2.append("tspan").text("(");
k2.append("tspan").attr("font-style", "italic").text("z’");
k2.append("tspan").text("−");
k2.append("tspan").attr("font-style", "italic").text("K");
k2.append("tspan").attr("font-style", "italic").attr("font-size", 20).attr("dy", 5).text("S");
k2.append("tspan").attr("dy", -5).text(")−(");
k2.append("tspan").attr("font-style", "italic").text("B");
k2.append("tspan").text("−");
k2.append("tspan").attr("font-style", "italic").text("z’");
k2.append("tspan").text(")=−" + Math.abs(cutOffset));
key.append("line").attr("x1", 828).attr("x2", 904).attr("y1", 505).attr("y2", 505)
  .attr("stroke", "#555").attr("stroke-width", 1.3).attr("stroke-dasharray", "7,11");
key.append("line").attr("x1", 828).attr("x2", 904).attr("y1", 540).attr("y2", 540)
  .attr("stroke", "black").attr("stroke-width", 3).attr("stroke-dasharray", "8,6");
</script>
</body>
</html>
